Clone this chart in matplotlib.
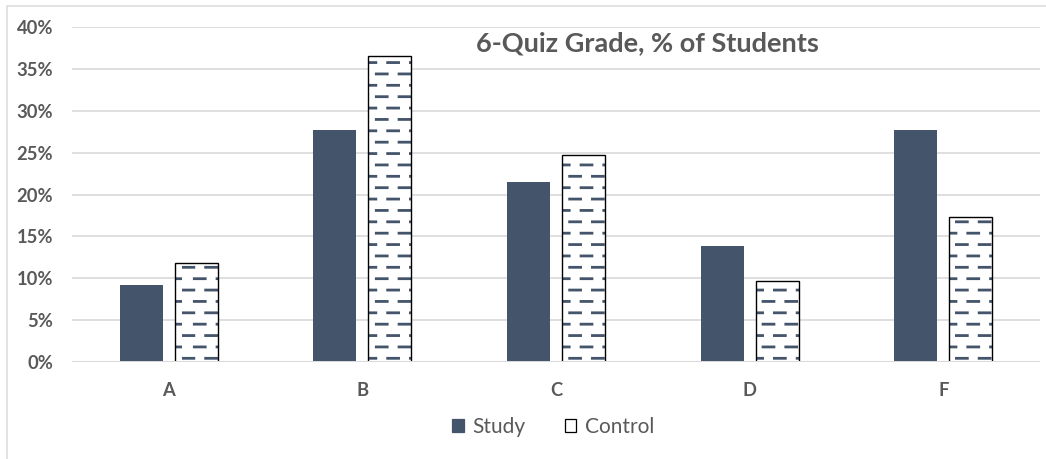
import matplotlib
matplotlib.use("Agg")
import matplotlib.pyplot as plt
import numpy as np
from matplotlib import hatch as mhatch
from matplotlib.patches import Patch, Rectangle
from matplotlib.path import Path
from matplotlib.ticker import PercentFormatter

grades = ["A", "B", "C", "D", "F"]
study = [9.2, 27.7, 21.5, 13.9, 27.7]
control = [11.8, 36.5, 24.7, 9.7, 17.3]
y_ticks = [0, 5, 10, 15, 20, 25, 30, 35, 40]
title = "6-Quiz Grade, % of Students"

NAVY = "#44546a"
GREY_TXT = "#595959"
GRID = "#d9d9d9"

# brick-laid short dashes, replaces the default "-" hatch
DASH_COLS = 4
DASH_ROWS = 8
DASH_LEN = 0.12


class BrickDashHatch(mhatch.HatchPatternBase):
    def __init__(self, hatch, density):
        self.on = "-" in hatch
        self.num_vertices = 2 * DASH_COLS * DASH_ROWS if self.on else 0

    def set_vertices_and_codes(self, vertices, codes):
        step = 1.0 / DASH_COLS
        i = 0
        for r in range(DASH_ROWS):
            y = (r + 0.5) / DASH_ROWS
            shift = 0.01 if r % 2 == 0 else 0.01 + step / 2
            for c in range(DASH_COLS):
                x0 = c * step + shift
                vertices[i] = (x0, y)
                vertices[i + 1] = (x0 + DASH_LEN, y)
                codes[i] = Path.MOVETO
                codes[i + 1] = Path.LINETO
                i += 2


mhatch._hatch_types[0] = BrickDashHatch

plt.rcParams["font.family"] = ["Lato", "DejaVu Sans"]
plt.rcParams["hatch.linewidth"] = 2.2

DPI = 91
fig = plt.figure(figsize=(1046 / DPI, 459 / DPI), dpi=DPI)
ax = fig.add_axes([72 / 1046, 97 / 459, 968 / 1046, 335 / 459])

x = np.arange(len(grades))
w = 0.222
off = 0.142

ax.bar(x - off, study, width=w, color=NAVY, zorder=2)
ax.bar(x + off, control, width=w, facecolor="white", edgecolor=NAVY,
       hatch="-", linewidth=0, zorder=2)
ax.bar(x + off, control, width=w, fill=False, edgecolor="black",
       linewidth=1.1, zorder=2.5)

ax.set_xlim(-0.5, len(grades) - 0.5)
ax.set_ylim(0, 40)
ax.set_yticks(y_ticks)
ax.yaxis.set_major_formatter(PercentFormatter(decimals=0))
ax.set_xticks(x)
ax.set_xticklabels(grades)

ax.grid(axis="y", color=GRID, linewidth=1.3, zorder=0)
ax.axhline(0, color=GRID, linewidth=1.6, zorder=3)
ax.set_axisbelow(True)
for s in ax.spines.values():
    s.set_visible(False)
ax.tick_params(length=0, colors=GREY_TXT, labelsize=14.5)
ax.tick_params(axis="y", pad=15)
ax.tick_params(axis="x", pad=16)
for lab in ax.get_xticklabels() + ax.get_yticklabels():
    lab.set_fontweight("bold")

ax.text(0.594, 0.951, title, transform=ax.transAxes, ha="center", va="center",
        fontsize=21.5, fontweight="bold", color=GREY_TXT)

handles = [Patch(facecolor=NAVY, edgecolor=NAVY),
           Patch(facecolor="white", edgecolor="black", linewidth=1)]
fig.legend(handles, ["Study", "Control"], loc="center",
           bbox_to_anchor=(0.529, 0.07), ncol=2, frameon=False,
           fontsize=16.5, labelcolor=GREY_TXT, handlelength=0.55,
           handleheight=0.55, handletextpad=0.4, columnspacing=1.9)

# light chart-area border
fig.patches.append(Rectangle((7 / 1046, -0.5), 2, 1.5 - 6 / 459,
                             transform=fig.transFigure, fill=False,
                             edgecolor="#d9d9d9", linewidth=1.2))

fig.savefig("out.png", dpi=DPI, facecolor="white")
